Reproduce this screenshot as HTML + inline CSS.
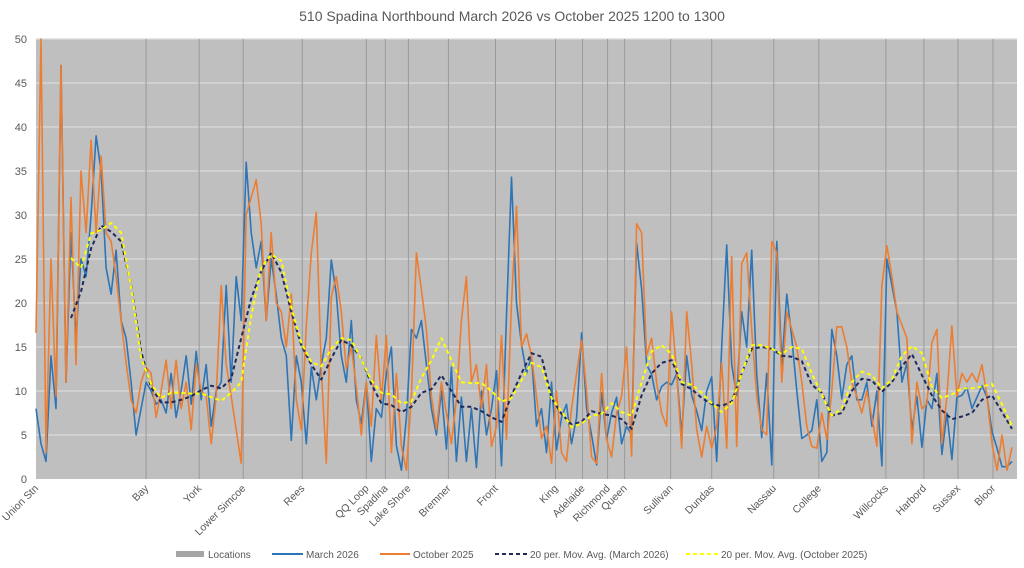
<!DOCTYPE html>
<html><head><meta charset="utf-8"><style>
html,body{margin:0;padding:0;background:#fff;}
svg{display:block;font-family:"Liberation Sans",sans-serif;}
</style></head><body>
<svg id="chart" width="1024" height="568" viewBox="0 0 1024 568">
<text x="512" y="21" text-anchor="middle" font-size="14" fill="#595959">510 Spadina Northbound March 2026 vs October 2025 1200 to 1300</text>
<rect x="36" y="39" width="981" height="440" fill="#bfbfbf"/>
<g id="grid"></g><g id="locs"></g><g id="series"></g><g id="yaxis"></g><g id="xaxis"></g>
<g font-size="10" fill="#595959">
<g><rect x="176" y="551" width="28" height="6" fill="#a6a6a6"/><text x="208" y="558">Locations</text></g>
<g><line x1="272" y1="554" x2="303" y2="554" stroke="#2e75b6" stroke-width="2"/><text x="306" y="558">March 2026</text></g>
<g><line x1="380" y1="554" x2="410" y2="554" stroke="#ed7d31" stroke-width="2"/><text x="413" y="558">October 2025</text></g>
<g><line x1="495" y1="554" x2="527" y2="554" stroke="#1f2a5a" stroke-width="2" stroke-dasharray="4,3"/><text x="530" y="558">20 per. Mov. Avg. (March 2026)</text></g>
<g><line x1="686" y1="554" x2="718" y2="554" stroke="#ffff00" stroke-width="2" stroke-dasharray="4,3"/><text x="721" y="558">20 per. Mov. Avg. (October 2025)</text></g>
</g>
</svg>
<script>
const march=[8,4,2,14,8,47,11,28,16,25,23,30,39,35,24,21,26,18,16,11,5,8,11,10,8.5,9,7.5,12,7,10,14,8.5,14.5,9,13,6,10,11,22,11,23,18,36,28,24,27,18,25,21,16,14,4.4,14,11,4,12.7,9,13,16,24.9,21,14,11,18,9,6.3,11,2,8,7,12,15,3.8,1,7,17,16,18,13,8,5,10,3.4,12.7,2,9.3,2,8,1.3,10,5,8,12.3,1.5,18.6,34.3,20,15.3,12,14,6,8,3,11,3.3,7,8.5,4,7,16.6,8,5,1.6,9.8,4.5,7.5,9.3,4,6,5,26.8,21.6,13,11.9,9,10.5,11,10.7,12,5,14,9.5,7.7,5.5,10,11.6,2,15,26.6,13,9.5,19,15,26,12,4.7,12,1.6,27,13,21,16,10,4.6,5,5.5,9,2,3,17,14,9.1,13,14,9,9,11,6,10,1.5,25,22,19,11,13.2,5.6,9.4,3.6,9,8,12,2.8,7.5,2.2,9.3,9.5,10.4,8,9.3,10.6,9.3,5.4,3.5,1.4,1.4,2];
const october=[16.6,50,3,25,9.4,47,11,32,13,35,28,38.5,28,36.7,28,27,23,18,13.2,9,7.5,11,12.7,12,7,10,13.5,8,13.5,8,11,5.6,13,10,9.4,4,9.4,22,13,9.4,5.6,1.8,30,32,34,29,18,28,20,19,15,21,9,5.6,17.4,25.7,30.3,12.4,1.8,20.7,23,19,12.5,15,10.5,5,11,6,16.3,9,16.3,3,12,3.7,1,9.4,25.7,21.5,17,9.4,5.6,11,7.5,4,9,18,23,11,13,8,13,3.7,6,16.3,4.5,20,31,15,16.5,14,9.4,4.6,6,1.8,10,3,2,8,12,15.8,10,2.5,1.8,12,4.5,2.5,7.5,9.4,15,2.6,29,28,14,16,11,7.5,6,19,12,3.5,19,13,5.6,2.5,6,3.5,6,13.2,3.5,25.3,3.7,24.5,25.7,17,9.4,5.6,5,27,25.7,11,19,17,15,11,6,3.7,3.5,7.5,4.5,10,17.3,17.3,15,11,9.4,7.5,10,7,3.7,22,26.5,23,19,17.5,16,4,11,8,8.5,15.5,17,4,9.4,17.4,9.4,12,11,12,11,13,9.4,4,1,5,1,3.6];
const maMarch=[18.3,21.3,26.2,28.8,28.1,27,22,14.5,10.4,8.7,8.7,9,9.4,10.1,10.6,10.3,11.4,16,20.5,23.6,25.7,23.5,19,15.2,13,11.3,13.7,15.8,15.2,13.7,10.8,8.6,8.4,7.6,8.2,9.8,10.2,11.8,10,8.2,8.2,7.7,7,6.5,9.5,12,14.3,13.9,9.2,7.4,6.2,6.5,7.7,7.4,7.2,6.8,5.7,9.5,12,13.2,13.5,10.8,10.2,9.2,8.5,8.3,8.8,12,14.8,15,14.8,14,13.9,13.4,10.7,9.8,7.2,7.5,10,11.4,11.2,9.9,11,12.8,14.2,11.8,9.5,7.8,6.8,7.1,7.5,9,9.5,7.6,5.7];
const maOctober=[25.1,24,27.9,28.3,29.1,28,21.8,13.8,10.8,9.2,9.8,9.8,9.7,9.7,9.3,8.9,9.8,11,18.5,24,25.5,24.8,19.5,15.5,13.3,12.8,14.8,16,15.8,13.6,11.2,9.8,9.6,8.6,8.8,11.5,13.5,16,13.5,11,10.9,10.9,10,8.8,9.2,11.2,13.2,12.7,9.2,7.7,5.9,6.3,7.2,7.4,8.6,7.6,7.2,11,14.5,15.2,14.2,11,10.7,9.8,8.6,7.6,8.6,12,15.2,15.2,14.8,14.2,15,14.8,12,9.6,7.2,8,11,12.2,11.8,10.3,11.3,14,15.1,14.3,10.5,9.2,9.6,10.3,10.3,10.5,10.8,8.5,6];
const maStartIndex=7, maStepIndex=2;
const locationNames=["Union Stn","Bay","York","Lower Simcoe","Rees","QQ Loop","Spadina","Lake Shore","Bremner","Front","King","Adelaide","Richmond","Queen","Sullivan","Dundas","Nassau","College","Willcocks","Harbord","Sussex","Bloor"];
const locationIndex=[0,22,32.6,41.4,53.2,66,69.8,74.4,82.4,91.8,103.8,109.2,114.2,117.6,126.8,135,147.4,156.4,169.8,177.4,184.2,191.2];
const yTicks=[0,5,10,15,20,25,30,35,40,45,50];

const NS="http://www.w3.org/2000/svg";
const X0=36,X1=1017,Y0=479,Y1=39,YMAX=50,NPTS=197;
const xs=i=>X0+i*(X1-X0)/(NPTS-1);
const ys=v=>Y0-(v/YMAX)*(Y0-Y1);
function mk(tag,attrs,parent){const e=document.createElementNS(NS,tag);for(const k in attrs)e.setAttribute(k,attrs[k]);parent.appendChild(e);return e;}
const grid=document.getElementById('grid'),locs=document.getElementById('locs'),ser=document.getElementById('series'),ya=document.getElementById('yaxis'),xa=document.getElementById('xaxis');
yTicks.forEach(t=>{
  if(t>0){const l=mk('line',{x1:X0,x2:X1,y1:ys(t),y2:ys(t),stroke:'#d9d9d9','stroke-width':1.2},grid);
  
  }
  const tx=mk('text',{x:27,y:ys(t)+4,'text-anchor':'end','font-size':11,fill:'#595959'},ya);tx.textContent=t;
  
  
});
locationNames.forEach((n,k)=>{
  const x=xs(locationIndex[k]);
  if(k>0){const l=mk('line',{x1:x,x2:x,y1:Y1,y2:Y0,stroke:'#9a9a9a','stroke-width':1},locs);
  
  }
  const t=mk('text',{x:x+3,y:489,'text-anchor':'end','font-size':10.5,fill:'#595959',transform:`rotate(-45 ${x+3} 489)`},xa);t.textContent=n;
  
  
});
function line(vals,start,step,color,w,dash,name){
  const pts=vals.map((v,i)=>xs(start+i*step).toFixed(1)+','+ys(v).toFixed(1)).join(' ');
  const p=mk('polyline',{points:pts,fill:'none',stroke:color,'stroke-width':w,'stroke-linejoin':'round'},ser);
  if(dash)p.setAttribute('stroke-dasharray',dash);
  
  
}
line(march,0,1,'#2e75b6',1.6,null,'series-march-2026');
line(october,0,1,'#ed7d31',1.6,null,'series-october-2025');
line(maMarch,maStartIndex,maStepIndex,'#1f2a5a',2,'4,3','ma-march-2026');
line(maOctober,maStartIndex,maStepIndex,'#ffff00',2,'4,3','ma-october-2025');
</script>
</body></html>
